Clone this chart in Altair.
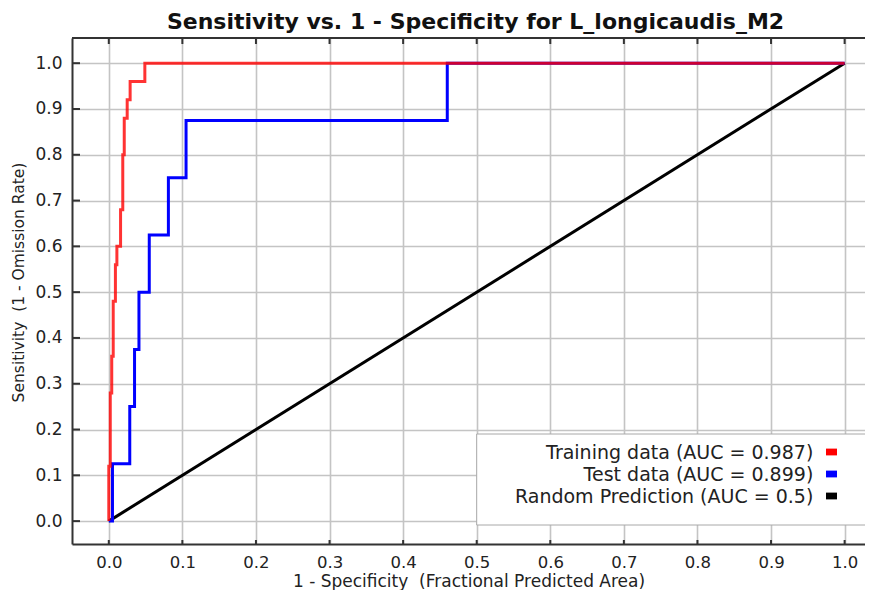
import altair as alt
import pandas as pd

# ---------------- data ----------------
train_fpr = [0.000, 0.002, 0.004, 0.006, 0.009, 0.011, 0.016, 0.019, 0.021, 0.025, 0.029, 0.049, 1.000]
train_tpr = [0.12, 0.28, 0.36, 0.48, 0.56, 0.60, 0.68, 0.80, 0.88, 0.92, 0.96, 1.00, 1.00]

test_fpr = [0.005, 0.0285, 0.035, 0.041, 0.055, 0.081, 0.105, 0.460, 1.000]
test_tpr = [0.125, 0.250, 0.375, 0.500, 0.625, 0.750, 0.875, 1.000, 1.000]

random_fpr = [0.0, 1.0]
random_tpr = [0.0, 1.0]

series_names = ["Training data", "Test data", "Random Prediction"]
series_auc = ["0.987", "0.899", "0.5"]
series_colors = ["#ff0000", "#0000ff", "#000000"]

tick_values = [0.0, 0.1, 0.2, 0.3, 0.4, 0.5, 0.6, 0.7, 0.8, 0.9, 1.0]

title_text = "Sensitivity vs. 1 - Specificity for L_longicaudis_M2"
x_title = "1 - Specificity \u00a0(Fractional Predicted Area)"
y_title = "Sensitivity \u00a0(1 - Omission Rate)"


def staircase(fpr, tpr):
    xs, ys = [0.0], [0.0]
    prev = 0.0
    for f, t in zip(fpr, tpr):
        xs += [f, f]
        ys += [prev, t]
        prev = t
    return xs, ys


def frame(xs, ys):
    return pd.DataFrame({"x": xs, "y": ys, "o": list(range(len(xs)))})


tx, ty = staircase(train_fpr, train_tpr)
vx, vy = staircase(test_fpr, test_tpr)
train_df = frame(tx, ty)
test_df = frame(vx, vy)
random_df = frame(random_fpr, random_tpr)
ticks_df = pd.DataFrame({"t": tick_values})
one_df = pd.DataFrame({"a": [0]})

W, H = 793, 506
FONT = "DejaVu Sans"
TXT = "#222222"
DARK = "#333333"

x_scale = alt.Scale(domain=[-0.05, 1.0277], nice=False, zero=False)
y_scale = alt.Scale(domain=[-0.05, 1.055], nice=False, zero=False)

x_axis = alt.Axis(
    values=tick_values, format=".1f", title=x_title,
    grid=True, gridColor="#c4c4c4", gridWidth=1.6,
    domainColor=DARK, domainWidth=2, ticks=False,
    labelFont=FONT, labelFontSize=16.5, labelColor=TXT, labelPadding=10,
    labelFlush=False, labelOverlap=False,
    titleFont=FONT, titleFontSize=17, titleFontWeight="normal", titleColor=TXT,
    titleY=42.5, titleBaseline="alphabetic",
)
y_axis = alt.Axis(
    values=tick_values, format=".1f", title=y_title,
    grid=True, gridColor="#c4c4c4", gridWidth=1.6,
    domainColor=DARK, domainWidth=2, ticks=False,
    labelFont=FONT, labelFontSize=17, labelColor=TXT, labelPadding=10,
    labelFlush=False, labelOverlap=False,
    titleFont=FONT, titleFontSize=15.5, titleFontWeight="normal", titleColor=TXT,
    titleX=-54, titleY=244, titleAngle=270, titleAlign="center", titleBaseline="middle",
)


def curve(df, color, opacity=1.0):
    return alt.Chart(df).mark_line(color=color, strokeWidth=3, opacity=opacity).encode(
        x=alt.X("x:Q", scale=x_scale, axis=x_axis),
        y=alt.Y("y:Q", scale=y_scale, axis=y_axis),
        order="o:Q",
    )


random_line = curve(random_df, series_colors[2])
test_line = curve(test_df, series_colors[1])
train_line = curve(train_df, series_colors[0], 0.8)

# frame top line and inward ticks
top_line = alt.Chart(one_df).mark_rule(color=DARK, strokeWidth=2).encode(
    x=alt.value(0), x2=alt.value(W), y=alt.value(0)
)
top_ticks = alt.Chart(ticks_df).mark_rule(color=DARK, strokeWidth=2).encode(
    x=alt.X("t:Q", scale=x_scale), y=alt.value(0), y2=alt.value(6)
)
bottom_ticks = alt.Chart(ticks_df).mark_rule(color=DARK, strokeWidth=2).encode(
    x=alt.X("t:Q", scale=x_scale), y=alt.value(H), y2=alt.value(H - 4)
)
left_ticks = alt.Chart(ticks_df).mark_rule(color=DARK, strokeWidth=2).encode(
    y=alt.Y("t:Q", scale=y_scale), x=alt.value(0), x2=alt.value(8)
)

# legend box
legend_box = alt.Chart(one_df).mark_rect(fill="white", stroke="#a8a8a8", strokeWidth=1).encode(
    x=alt.value(404.7), x2=alt.value(W + 5), y=alt.value(396), y2=alt.value(487)
)
legend_layers = [legend_box]
for i, (name, auc, col) in enumerate(zip(series_names, series_auc, series_colors)):
    lab_df = pd.DataFrame({"label": [f"{name} (AUC = {auc})"]})
    legend_layers.append(
        alt.Chart(lab_df).mark_text(
            align="right", baseline="middle", font=FONT, fontSize=19, color=TXT
        ).encode(text="label:N", x=alt.value(741.3), y=alt.value(415 + 22 * i))
    )
    legend_layers.append(
        alt.Chart(lab_df).mark_point(
            shape="M-1,-0.62L1,-0.62L1,0.62L-1,0.62Z", filled=True, opacity=1,
            size=120, color=col, strokeWidth=0
        ).encode(x=alt.value(759.5), y=alt.value(414 + 22 * i))
    )

chart = alt.layer(
    random_line, test_line, train_line,
    top_line, top_ticks, bottom_ticks, left_ticks,
    *legend_layers,
).properties(
    width=W, height=H,
    autosize=alt.AutoSizeParams(type="none"),
    padding={"left": 64, "top": 30, "right": 0, "bottom": 46},
    background="white",
    title=alt.TitleParams(
        title_text, font=FONT, fontSize=22, fontWeight="bold", color="#111111",
        anchor="middle", offset=3, dx=7,
    ),
).configure_view(stroke=None)

chart.save("out.html", embed_options={"renderer": "svg", "actions": False})
